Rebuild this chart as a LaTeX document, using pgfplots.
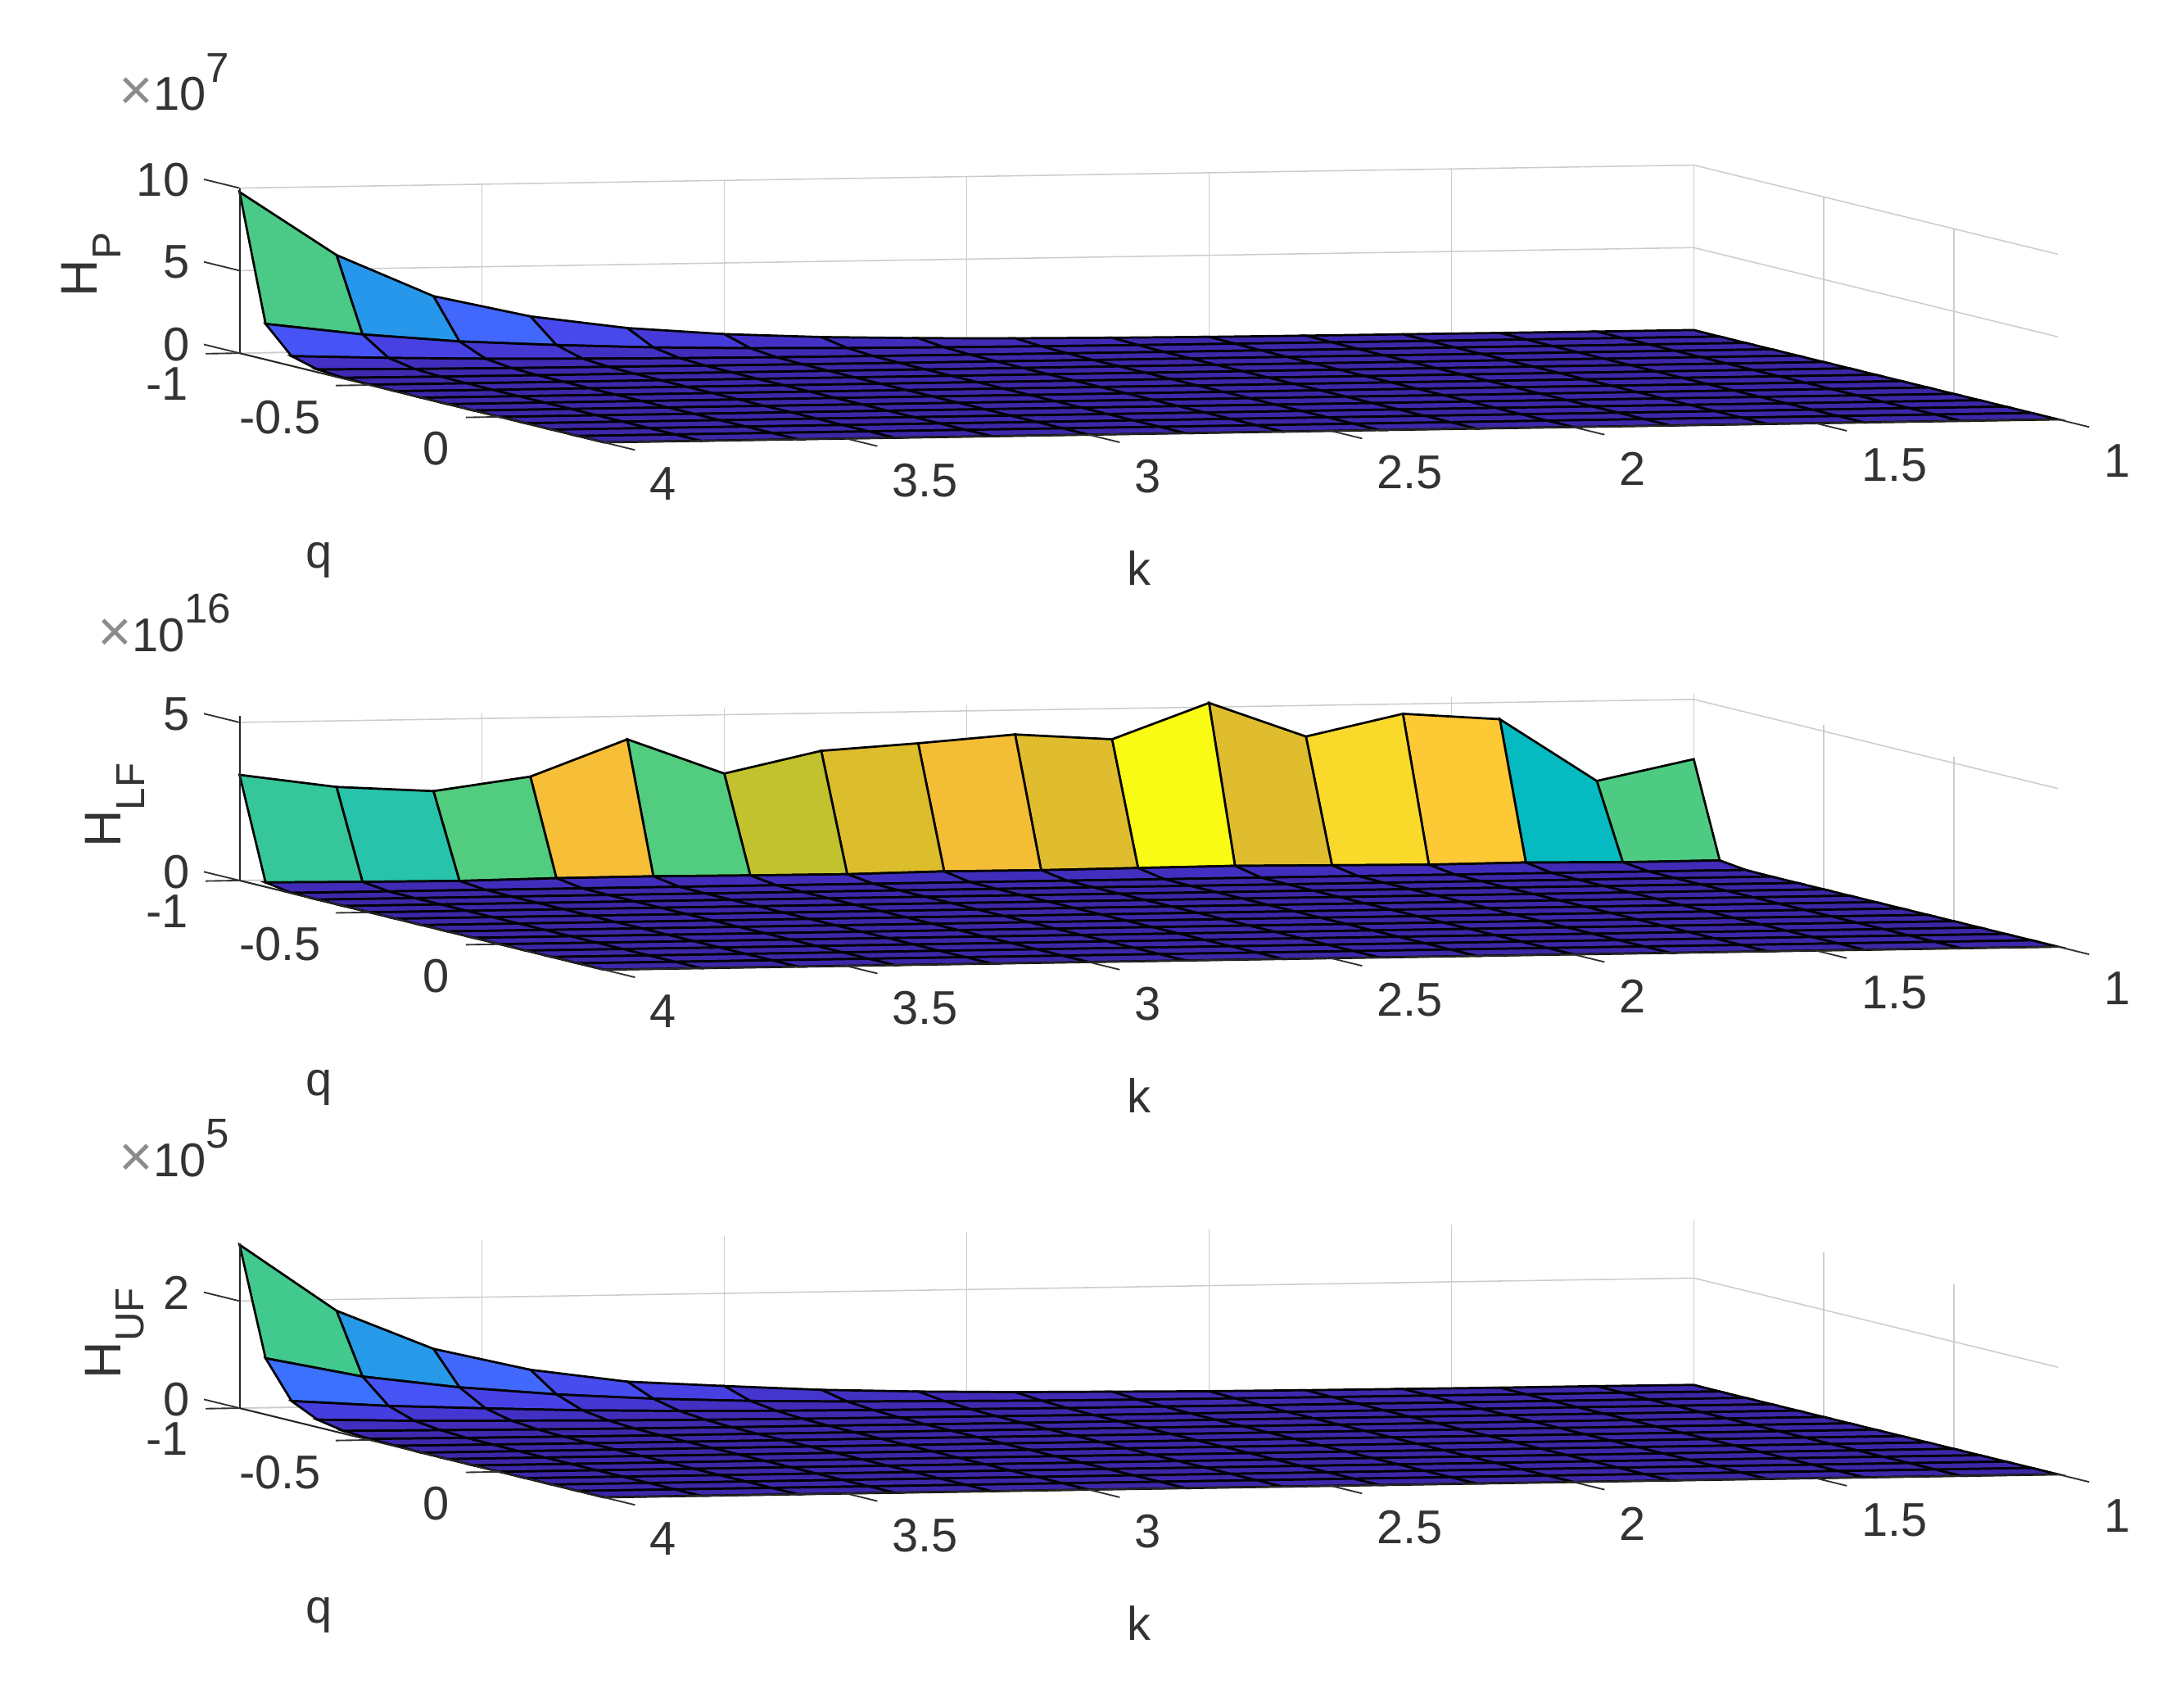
\documentclass[border=0pt]{standalone}
\usepackage{fontspec}
\setmainfont{Liberation Sans}
\usepackage{pgfplots}
\pgfplotsset{compat=1.18}

\definecolor{tickc}{gray}{0.2}
\definecolor{gridc}{gray}{0.8}

% parula
\pgfplotsset{colormap={parula}{
  rgb=(.2422,.1504,.6603) rgb=(.2647,.1978,.7952) rgb=(.2783,.2559,.8991)
  rgb=(.2810,.3228,.9579) rgb=(.2699,.3892,.9906) rgb=(.2206,.4603,.9973)
  rgb=(.1786,.5289,.9682) rgb=(.1540,.5902,.9218) rgb=(.1248,.6459,.8883)
  rgb=(.0689,.6948,.8394) rgb=(.0067,.7312,.7660) rgb=(.1408,.7584,.6842)
  rgb=(.2161,.7843,.5923) rgb=(.3406,.8008,.4789) rgb=(.5044,.7993,.3480)
  rgb=(.6720,.7793,.2227) rgb=(.8203,.7498,.1535) rgb=(.9393,.7288,.2100)
  rgb=(.9970,.7659,.2199) rgb=(.9786,.8386,.1766) rgb=(.9597,.9135,.1423)
  rgb=(.9769,.9839,.0805)}}

\pgfplotsset{hpanel/.style={
  anchor=south west, clip=false,
  x={(-174pt,-2.75pt)}, y={(93.4pt,-22.86pt)},
  xmin=1, xmax=4, ymin=-1, ymax=0.4, zmin=0,
  xtick={1,1.5,2,2.5,3,3.5,4}, xticklabels={1,1.5,2,2.5,3,3.5,4},
  ytick={-1,-0.5,0}, yticklabels={{\raisebox{1pt}{-1}\kern1pt},{-0.5},{0\kern0.5pt}},
  grid=major, grid style={gridc, line width=0.45pt},
  axis line style={draw=none}, tick style={draw=none},
  tick label style={font=\fontsize{17}{17}\selectfont, text=tickc},
  xticklabel style={anchor=west, xshift=13pt, yshift=-15pt},
  yticklabel style={anchor=east, xshift=-14pt, yshift=-11.5pt},
  zticklabel style={anchor=east, xshift=-14.5pt, yshift=3pt},
  xlabel={k}, ylabel={q},
  label style={font=\fontsize{17}{17}\selectfont, text=tickc},
  xlabel style={at={(axis cs:4,0.4,0)}, anchor=center, rotate=0, sloped=false, xshift=192.25pt, yshift=-45.25pt},
  ylabel style={at={(axis cs:4,-1,0)}, anchor=center, rotate=0, sloped=false, xshift=28.5pt, yshift=-74.25pt},
  point meta=z, point meta min=0,
},
surfline/.style={surf, shader=flat corner, draw=black, line width=0.8pt,
    mesh/ordering=x varies, mesh/cols=16, z buffer=none},
}
\tikzset{
  axl/.style={draw=black!85, line width=0.6pt},
  tk/.style={draw=tickc, line width=0.55pt},
}
\newcommand{\hdeco}[2]{%
  \draw[axl] (axis cs:4,-1,0) -- (axis cs:4,-1,#1);
  \draw[axl] (axis cs:4,-1,0) -- (axis cs:4,0.4,0) -- (axis cs:1,0.4,0);
  \pgfplotsinvokeforeach{#2}{\draw[tk] (axis cs:4,-1,##1) -- (axis cs:4,-1.137,##1);}
  \pgfplotsinvokeforeach{-1,-0.5,0}{\draw[tk] (axis cs:4,##1,0) -- (axis cs:4.07,##1,0);}
  \pgfplotsinvokeforeach{1,1.5,2,2.5,3,3.5,4}{\draw[tk] (axis cs:##1,0.4,0) -- (axis cs:##1,0.52,0);}
}
\newcommand{\expo}[1]{{\fontsize{17}{17}\selectfont\color{tickc}\textcolor{black!45}{\fontsize{21}{21}\selectfont ×}10\raisebox{0.6em}{\fontsize{15}{15}\selectfont #1}}}
\newcommand{\hsub}[1]{H\raisebox{-0.45em}{\fontsize{14.5}{14.5}\selectfont #1}}

\begin{document}
\begin{tikzpicture}
\path[use as bounding box] (0,0) rectangle (784pt,606pt);

% H_P
\begin{axis}[hpanel, at={(86pt,447.25pt)}, z={(0pt,5.925pt)}, zmax=10, ztick={0,5,10}, zticklabels={0,5,10},
  point meta max=9.76, zlabel={\hsub{P}},
  zlabel style={at={(axis cs:4,-1,0)}, anchor=center, text=tickc, font=\fontsize{18.5}{18.5}\selectfont, xshift=31.75pt, yshift=53.25pt}]
\addplot3[surfline] coordinates {
(1,-1,.01)(1.2,-1,.01)(1.4,-1,.02)(1.6,-1,.03)(1.8,-1,.04)(2,-1,.06)(2.2,-1,.1)(2.4,-1,.16)(2.6,-1,.26)(2.8,-1,.42)(3,-1,.69)(3.2,-1,1.15)(3.4,-1,1.95)(3.6,-1,3.27)(3.8,-1,5.85)(4,-1,9.76)

(1,-.9,0)(1.2,-.9,0)(1.4,-.9,.01)(1.6,-.9,.01)(1.8,-.9,.02)(2,-.9,.03)(2.2,-.9,.04)(2.4,-.9,.06)(2.6,-.9,.09)(2.8,-.9,.14)(3,-.9,.22)(3.2,-.9,.36)(3.4,-.9,.6)(3.6,-.9,.91)(3.8,-.9,1.43)(4,-.9,2.16)

(1,-.8,0)(1.2,-.8,0)(1.4,-.8,0)(1.6,-.8,0)(1.8,-.8,0)(2,-.8,.01)(2.2,-.8,.01)(2.4,-.8,.02)(2.6,-.8,.03)(2.8,-.8,.04)(3,-.8,.06)(3.2,-.8,.1)(3.4,-.8,.16)(3.6,-.8,.25)(3.8,-.8,.39)(4,-.8,.59)

(1,-.7,0)(1.2,-.7,0)(1.4,-.7,0)(1.6,-.7,0)(1.8,-.7,0)(2,-.7,0)(2.2,-.7,0)(2.4,-.7,0)(2.6,-.7,.01)(2.8,-.7,.01)(3,-.7,.02)(3.2,-.7,.03)(3.4,-.7,.05)(3.6,-.7,.07)(3.8,-.7,.11)(4,-.7,.17)

(1,-.6,0)(1.2,-.6,0)(1.4,-.6,0)(1.6,-.6,0)(1.8,-.6,0)(2,-.6,0)(2.2,-.6,0)(2.4,-.6,0)(2.6,-.6,0)(2.8,-.6,0)(3,-.6,.01)(3.2,-.6,.01)(3.4,-.6,.02)(3.6,-.6,.02)(3.8,-.6,.03)(4,-.6,.05)

(1,-.5,0)(1.2,-.5,0)(1.4,-.5,0)(1.6,-.5,0)(1.8,-.5,0)(2,-.5,0)(2.2,-.5,0)(2.4,-.5,0)(2.6,-.5,0)(2.8,-.5,0)(3,-.5,0)(3.2,-.5,0)(3.4,-.5,.01)(3.6,-.5,.01)(3.8,-.5,.01)(4,-.5,.02)

(1,-.4,0)(1.2,-.4,0)(1.4,-.4,0)(1.6,-.4,0)(1.8,-.4,0)(2,-.4,0)(2.2,-.4,0)(2.4,-.4,0)(2.6,-.4,0)(2.8,-.4,0)(3,-.4,0)(3.2,-.4,0)(3.4,-.4,0)(3.6,-.4,0)(3.8,-.4,0)(4,-.4,.01)

(1,-.3,0)(1.2,-.3,0)(1.4,-.3,0)(1.6,-.3,0)(1.8,-.3,0)(2,-.3,0)(2.2,-.3,0)(2.4,-.3,0)(2.6,-.3,0)(2.8,-.3,0)(3,-.3,0)(3.2,-.3,0)(3.4,-.3,0)(3.6,-.3,0)(3.8,-.3,0)(4,-.3,0)

(1,-.2,0)(1.2,-.2,0)(1.4,-.2,0)(1.6,-.2,0)(1.8,-.2,0)(2,-.2,0)(2.2,-.2,0)(2.4,-.2,0)(2.6,-.2,0)(2.8,-.2,0)(3,-.2,0)(3.2,-.2,0)(3.4,-.2,0)(3.6,-.2,0)(3.8,-.2,0)(4,-.2,0)

(1,-.1,0)(1.2,-.1,0)(1.4,-.1,0)(1.6,-.1,0)(1.8,-.1,0)(2,-.1,0)(2.2,-.1,0)(2.4,-.1,0)(2.6,-.1,0)(2.8,-.1,0)(3,-.1,0)(3.2,-.1,0)(3.4,-.1,0)(3.6,-.1,0)(3.8,-.1,0)(4,-.1,0)

(1,0,0)(1.2,0,0)(1.4,0,0)(1.6,0,0)(1.8,0,0)(2,0,0)(2.2,0,0)(2.4,0,0)(2.6,0,0)(2.8,0,0)(3,0,0)(3.2,0,0)(3.4,0,0)(3.6,0,0)(3.8,0,0)(4,0,0)

(1,.1,0)(1.2,.1,0)(1.4,.1,0)(1.6,.1,0)(1.8,.1,0)(2,.1,0)(2.2,.1,0)(2.4,.1,0)(2.6,.1,0)(2.8,.1,0)(3,.1,0)(3.2,.1,0)(3.4,.1,0)(3.6,.1,0)(3.8,.1,0)(4,.1,0)

(1,.2,0)(1.2,.2,0)(1.4,.2,0)(1.6,.2,0)(1.8,.2,0)(2,.2,0)(2.2,.2,0)(2.4,.2,0)(2.6,.2,0)(2.8,.2,0)(3,.2,0)(3.2,.2,0)(3.4,.2,0)(3.6,.2,0)(3.8,.2,0)(4,.2,0)

(1,.3,0)(1.2,.3,0)(1.4,.3,0)(1.6,.3,0)(1.8,.3,0)(2,.3,0)(2.2,.3,0)(2.4,.3,0)(2.6,.3,0)(2.8,.3,0)(3,.3,0)(3.2,.3,0)(3.4,.3,0)(3.6,.3,0)(3.8,.3,0)(4,.3,0)

(1,.4,0)(1.2,.4,0)(1.4,.4,0)(1.6,.4,0)(1.8,.4,0)(2,.4,0)(2.2,.4,0)(2.4,.4,0)(2.6,.4,0)(2.8,.4,0)(3,.4,0)(3.2,.4,0)(3.4,.4,0)(3.6,.4,0)(3.8,.4,0)(4,.4,0)
};
\hdeco{10}{0,5,10}
\node[anchor=center] at ([xshift=-23.5pt,yshift=97.25pt]axis cs:4,-1,0) {\expo{7}};
\end{axis}

% H_LF
\begin{axis}[hpanel, at={(86pt,258pt)}, z={(0pt,11.35pt)}, zmax=5.2, ztick={0,5}, zticklabels={0,5},
  point meta max=5.13, zlabel={\hsub{LF}},
  zlabel style={at={(axis cs:4,-1,0)}, anchor=center, text=tickc, font=\fontsize{18.5}{18.5}\selectfont, xshift=27pt, yshift=44.75pt}]
\addplot3[surfline] coordinates {
(1,-1,3.11)(1.2,-1,2.47)(1.4,-1,4.47)(1.6,-1,4.69)(1.8,-1,4.02)(2,-1,5.13)(2.2,-1,4.03)(2.4,-1,4.23)(2.6,-1,4)(2.8,-1,3.81)(3,-1,3.14)(3.2,-1,4.27)(3.4,-1,3.14)(3.6,-1,2.73)(3.8,-1,2.91)(4,-1,3.34)

(1,-.9,.11)(1.2,-.9,.1)(1.4,-.9,.14)(1.6,-.9,.12)(1.8,-.9,.15)(2,-.9,.18)(2.2,-.9,.16)(2.4,-.9,.14)(2.6,-.9,.15)(2.8,-.9,.11)(3,-.9,.12)(3.2,-.9,.14)(3.4,-.9,.13)(3.6,-.9,.09)(3.8,-.9,.11)(4,-.9,.14)

(1,-.8,.01)(1.2,-.8,.01)(1.4,-.8,.01)(1.6,-.8,.01)(1.8,-.8,.01)(2,-.8,.01)(2.2,-.8,.01)(2.4,-.8,.01)(2.6,-.8,.01)(2.8,-.8,.01)(3,-.8,.01)(3.2,-.8,.01)(3.4,-.8,.01)(3.6,-.8,.01)(3.8,-.8,.01)(4,-.8,.01)

(1,-.7,0)(1.2,-.7,0)(1.4,-.7,0)(1.6,-.7,0)(1.8,-.7,0)(2,-.7,0)(2.2,-.7,0)(2.4,-.7,0)(2.6,-.7,0)(2.8,-.7,0)(3,-.7,0)(3.2,-.7,0)(3.4,-.7,0)(3.6,-.7,0)(3.8,-.7,0)(4,-.7,0)

(1,-.6,0)(1.2,-.6,0)(1.4,-.6,0)(1.6,-.6,0)(1.8,-.6,0)(2,-.6,0)(2.2,-.6,0)(2.4,-.6,0)(2.6,-.6,0)(2.8,-.6,0)(3,-.6,0)(3.2,-.6,0)(3.4,-.6,0)(3.6,-.6,0)(3.8,-.6,0)(4,-.6,0)

(1,-.5,0)(1.2,-.5,0)(1.4,-.5,0)(1.6,-.5,0)(1.8,-.5,0)(2,-.5,0)(2.2,-.5,0)(2.4,-.5,0)(2.6,-.5,0)(2.8,-.5,0)(3,-.5,0)(3.2,-.5,0)(3.4,-.5,0)(3.6,-.5,0)(3.8,-.5,0)(4,-.5,0)

(1,-.4,0)(1.2,-.4,0)(1.4,-.4,0)(1.6,-.4,0)(1.8,-.4,0)(2,-.4,0)(2.2,-.4,0)(2.4,-.4,0)(2.6,-.4,0)(2.8,-.4,0)(3,-.4,0)(3.2,-.4,0)(3.4,-.4,0)(3.6,-.4,0)(3.8,-.4,0)(4,-.4,0)

(1,-.3,0)(1.2,-.3,0)(1.4,-.3,0)(1.6,-.3,0)(1.8,-.3,0)(2,-.3,0)(2.2,-.3,0)(2.4,-.3,0)(2.6,-.3,0)(2.8,-.3,0)(3,-.3,0)(3.2,-.3,0)(3.4,-.3,0)(3.6,-.3,0)(3.8,-.3,0)(4,-.3,0)

(1,-.2,0)(1.2,-.2,0)(1.4,-.2,0)(1.6,-.2,0)(1.8,-.2,0)(2,-.2,0)(2.2,-.2,0)(2.4,-.2,0)(2.6,-.2,0)(2.8,-.2,0)(3,-.2,0)(3.2,-.2,0)(3.4,-.2,0)(3.6,-.2,0)(3.8,-.2,0)(4,-.2,0)

(1,-.1,0)(1.2,-.1,0)(1.4,-.1,0)(1.6,-.1,0)(1.8,-.1,0)(2,-.1,0)(2.2,-.1,0)(2.4,-.1,0)(2.6,-.1,0)(2.8,-.1,0)(3,-.1,0)(3.2,-.1,0)(3.4,-.1,0)(3.6,-.1,0)(3.8,-.1,0)(4,-.1,0)

(1,0,0)(1.2,0,0)(1.4,0,0)(1.6,0,0)(1.8,0,0)(2,0,0)(2.2,0,0)(2.4,0,0)(2.6,0,0)(2.8,0,0)(3,0,0)(3.2,0,0)(3.4,0,0)(3.6,0,0)(3.8,0,0)(4,0,0)

(1,.1,0)(1.2,.1,0)(1.4,.1,0)(1.6,.1,0)(1.8,.1,0)(2,.1,0)(2.2,.1,0)(2.4,.1,0)(2.6,.1,0)(2.8,.1,0)(3,.1,0)(3.2,.1,0)(3.4,.1,0)(3.6,.1,0)(3.8,.1,0)(4,.1,0)

(1,.2,0)(1.2,.2,0)(1.4,.2,0)(1.6,.2,0)(1.8,.2,0)(2,.2,0)(2.2,.2,0)(2.4,.2,0)(2.6,.2,0)(2.8,.2,0)(3,.2,0)(3.2,.2,0)(3.4,.2,0)(3.6,.2,0)(3.8,.2,0)(4,.2,0)

(1,.3,0)(1.2,.3,0)(1.4,.3,0)(1.6,.3,0)(1.8,.3,0)(2,.3,0)(2.2,.3,0)(2.4,.3,0)(2.6,.3,0)(2.8,.3,0)(3,.3,0)(3.2,.3,0)(3.4,.3,0)(3.6,.3,0)(3.8,.3,0)(4,.3,0)

(1,.4,0)(1.2,.4,0)(1.4,.4,0)(1.6,.4,0)(1.8,.4,0)(2,.4,0)(2.2,.4,0)(2.4,.4,0)(2.6,.4,0)(2.8,.4,0)(3,.4,0)(3.2,.4,0)(3.4,.4,0)(3.6,.4,0)(3.8,.4,0)(4,.4,0)
};
\hdeco{5.2}{0,5}
\node[anchor=center] at ([xshift=-27pt,yshift=92.5pt]axis cs:4,-1,0) {\expo{16}};
\end{axis}

% H_UF
\begin{axis}[hpanel, at={(86pt,68.65pt)}, z={(0pt,19.22pt)}, zmax=3.07, ztick={0,2}, zticklabels={0,2},
  point meta max=3.05, zlabel={\hsub{UF}},
  zlabel style={at={(axis cs:4,-1,0)}, anchor=center, text=tickc, font=\fontsize{18.5}{18.5}\selectfont, xshift=26.85pt, yshift=44.75pt}]
\addplot3[surfline] coordinates {
(1,-1,.005)(1.2,-1,.01)(1.4,-1,.01)(1.6,-1,.015)(1.8,-1,.02)(2,-1,.03)(2.2,-1,.05)(2.4,-1,.07)(2.6,-1,.11)(2.8,-1,.17)(3,-1,.27)(3.2,-1,.38)(3.4,-1,.63)(3.6,-1,1.05)(3.8,-1,1.79)(4,-1,3.05)

(1,-.9,0)(1.2,-.9,.005)(1.4,-.9,.005)(1.6,-.9,.01)(1.8,-.9,.01)(2,-.9,.015)(2.2,-.9,.02)(2.4,-.9,.03)(2.6,-.9,.05)(2.8,-.9,.07)(3,-.9,.11)(3.2,-.9,.18)(3.4,-.9,.29)(3.6,-.9,.45)(3.8,-.9,.68)(4,-.9,1.05)

(1,-.8,0)(1.2,-.8,0)(1.4,-.8,0)(1.6,-.8,0)(1.8,-.8,.005)(2,-.8,.005)(2.2,-.8,.01)(2.4,-.8,.01)(2.6,-.8,.02)(2.8,-.8,.03)(3,-.8,.045)(3.2,-.8,.07)(3.4,-.8,.11)(3.6,-.8,.176)(3.8,-.8,.25)(4,-.8,.37)

(1,-.7,0)(1.2,-.7,0)(1.4,-.7,0)(1.6,-.7,0)(1.8,-.7,0)(2,-.7,0)(2.2,-.7,0)(2.4,-.7,0)(2.6,-.7,.005)(2.8,-.7,.01)(3,-.7,.015)(3.2,-.7,.025)(3.4,-.7,.04)(3.6,-.7,.065)(3.8,-.7,.09)(4,-.7,.14)

(1,-.6,0)(1.2,-.6,0)(1.4,-.6,0)(1.6,-.6,0)(1.8,-.6,0)(2,-.6,0)(2.2,-.6,0)(2.4,-.6,0)(2.6,-.6,0)(2.8,-.6,0)(3,-.6,.005)(3.2,-.6,.005)(3.4,-.6,.01)(3.6,-.6,.02)(3.8,-.6,.035)(4,-.6,.05)

(1,-.5,0)(1.2,-.5,0)(1.4,-.5,0)(1.6,-.5,0)(1.8,-.5,0)(2,-.5,0)(2.2,-.5,0)(2.4,-.5,0)(2.6,-.5,0)(2.8,-.5,0)(3,-.5,0)(3.2,-.5,0)(3.4,-.5,0)(3.6,-.5,.005)(3.8,-.5,.01)(4,-.5,.02)

(1,-.4,0)(1.2,-.4,0)(1.4,-.4,0)(1.6,-.4,0)(1.8,-.4,0)(2,-.4,0)(2.2,-.4,0)(2.4,-.4,0)(2.6,-.4,0)(2.8,-.4,0)(3,-.4,0)(3.2,-.4,0)(3.4,-.4,0)(3.6,-.4,0)(3.8,-.4,.005)(4,-.4,.01)

(1,-.3,0)(1.2,-.3,0)(1.4,-.3,0)(1.6,-.3,0)(1.8,-.3,0)(2,-.3,0)(2.2,-.3,0)(2.4,-.3,0)(2.6,-.3,0)(2.8,-.3,0)(3,-.3,0)(3.2,-.3,0)(3.4,-.3,0)(3.6,-.3,0)(3.8,-.3,0)(4,-.3,0)

(1,-.2,0)(1.2,-.2,0)(1.4,-.2,0)(1.6,-.2,0)(1.8,-.2,0)(2,-.2,0)(2.2,-.2,0)(2.4,-.2,0)(2.6,-.2,0)(2.8,-.2,0)(3,-.2,0)(3.2,-.2,0)(3.4,-.2,0)(3.6,-.2,0)(3.8,-.2,0)(4,-.2,0)

(1,-.1,0)(1.2,-.1,0)(1.4,-.1,0)(1.6,-.1,0)(1.8,-.1,0)(2,-.1,0)(2.2,-.1,0)(2.4,-.1,0)(2.6,-.1,0)(2.8,-.1,0)(3,-.1,0)(3.2,-.1,0)(3.4,-.1,0)(3.6,-.1,0)(3.8,-.1,0)(4,-.1,0)

(1,0,0)(1.2,0,0)(1.4,0,0)(1.6,0,0)(1.8,0,0)(2,0,0)(2.2,0,0)(2.4,0,0)(2.6,0,0)(2.8,0,0)(3,0,0)(3.2,0,0)(3.4,0,0)(3.6,0,0)(3.8,0,0)(4,0,0)

(1,.1,0)(1.2,.1,0)(1.4,.1,0)(1.6,.1,0)(1.8,.1,0)(2,.1,0)(2.2,.1,0)(2.4,.1,0)(2.6,.1,0)(2.8,.1,0)(3,.1,0)(3.2,.1,0)(3.4,.1,0)(3.6,.1,0)(3.8,.1,0)(4,.1,0)

(1,.2,0)(1.2,.2,0)(1.4,.2,0)(1.6,.2,0)(1.8,.2,0)(2,.2,0)(2.2,.2,0)(2.4,.2,0)(2.6,.2,0)(2.8,.2,0)(3,.2,0)(3.2,.2,0)(3.4,.2,0)(3.6,.2,0)(3.8,.2,0)(4,.2,0)

(1,.3,0)(1.2,.3,0)(1.4,.3,0)(1.6,.3,0)(1.8,.3,0)(2,.3,0)(2.2,.3,0)(2.4,.3,0)(2.6,.3,0)(2.8,.3,0)(3,.3,0)(3.2,.3,0)(3.4,.3,0)(3.6,.3,0)(3.8,.3,0)(4,.3,0)

(1,.4,0)(1.2,.4,0)(1.4,.4,0)(1.6,.4,0)(1.8,.4,0)(2,.4,0)(2.2,.4,0)(2.4,.4,0)(2.6,.4,0)(2.8,.4,0)(3,.4,0)(3.2,.4,0)(3.4,.4,0)(3.6,.4,0)(3.8,.4,0)(4,.4,0)
};
\hdeco{3.07}{0,2}
\node[anchor=center] at ([xshift=-23.5pt,yshift=93.35pt]axis cs:4,-1,0) {\expo{5}};
\end{axis}
\end{tikzpicture}
\end{document}
